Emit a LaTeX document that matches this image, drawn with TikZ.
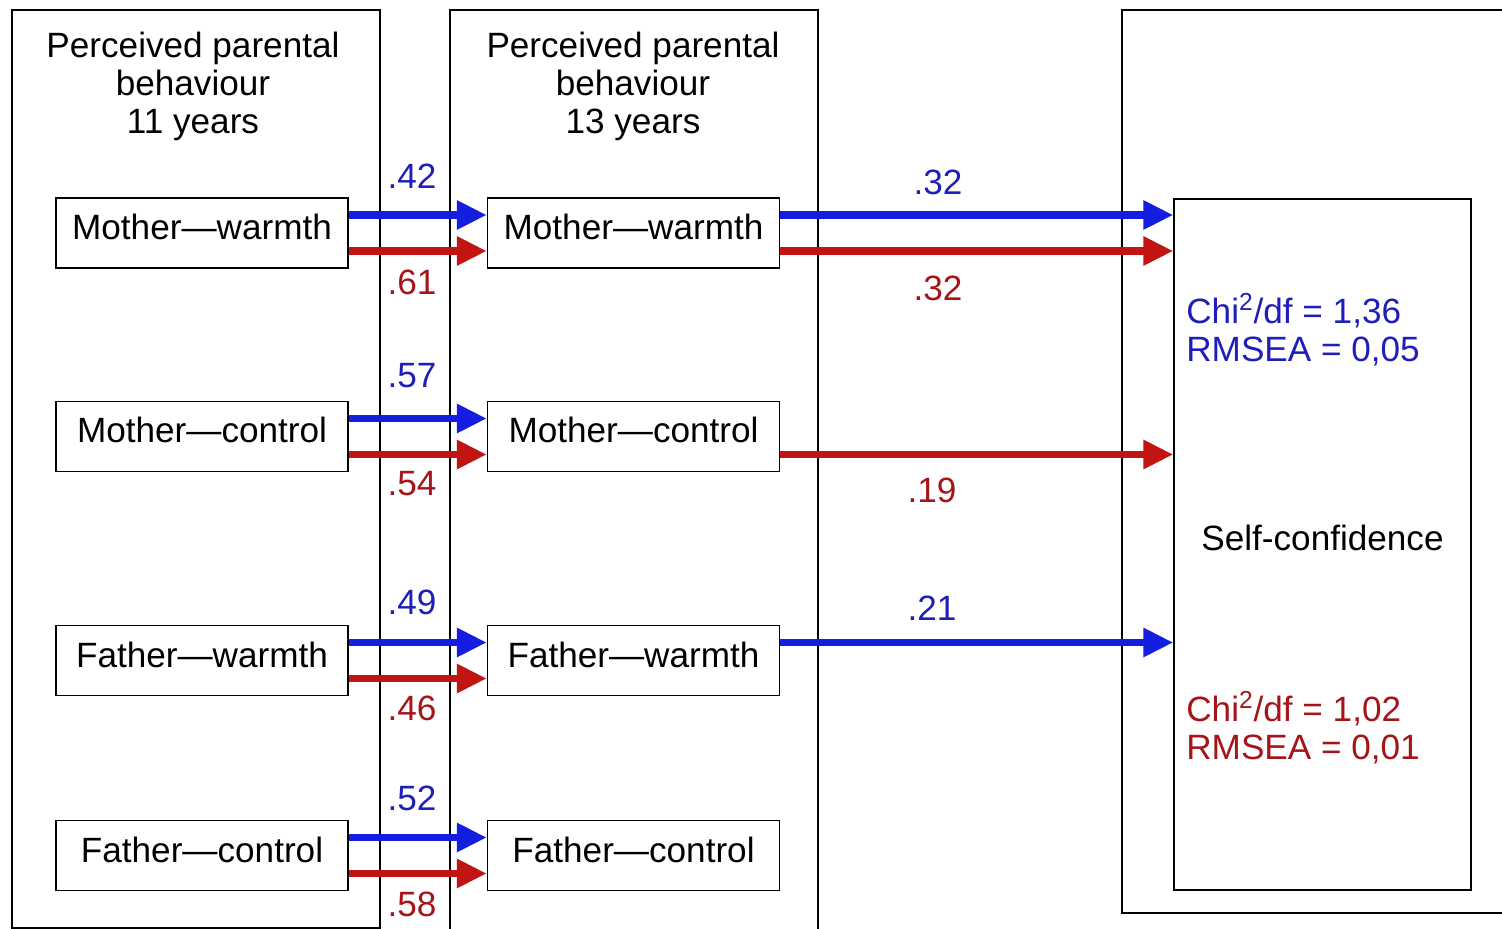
\documentclass[tikz,border=0pt]{standalone}
\usepackage{fontspec}
\setmainfont{Liberation Sans}
\usetikzlibrary{arrows.meta}
\definecolor{arrblue}{RGB}{20,30,225}
\definecolor{arrred}{RGB}{195,20,20}
\definecolor{txtblue}{RGB}{30,30,185}
\definecolor{txtred}{RGB}{165,20,25}
\tikzset{
  varbox/.style={draw, line width=0.8pt, minimum width=5.84cm, minimum height=1.4cm, inner sep=0pt, text height=0.6cm, text depth=0.34cm},
  pathb/.style={draw=arrblue, line width=4.5pt, -{Triangle[length=0.6cm,width=0.55cm]}},
  pathr/.style={draw=arrred, line width=4.5pt, -{Triangle[length=0.6cm,width=0.55cm]}},
  coefb/.style={text=txtblue, inner sep=0pt},
  coefr/.style={text=txtred, inner sep=0pt}
}
\begin{document}
\begin{tikzpicture}[x=0.02cm,y=-0.02cm,font=\fontsize{20}{21.6}\selectfont]
   \useasboundingbox (0,0) rectangle (1502,929);
   \draw [line width=0.8pt] (12,10) rectangle (380,928);\draw [line width=0.8pt] (450,10) rectangle (818,930);
   \draw [line width=0.8pt] (1122,10) rectangle (1520,913);
   \node (head1) at (193,86) [align=center] {Perceived parental\\behaviour\\11 years};
   \node (head2) at (633,86) [align=center] {Perceived parental\\behaviour\\13 years};
   % 11 years
   \node [varbox] (mw1) at (202,233) {Mother—warmth};
   \node [varbox] (mc1) at (202,436.5) {Mother—control};
   \node [varbox] (fw1) at (202,660.5) {Father—warmth};
   \node [varbox] (fc1) at (202,855.5) {Father—control};
   % 13 years
   \node [varbox] (mw2) at (633.5,233) {Mother—warmth};
   \node [varbox] (mc2) at (633.5,436.5) {Mother—control};
   \node [varbox] (fw2) at (633.5,660.5) {Father—warmth};
   \node [varbox] (fc2) at (633.5,855.5) {Father—control};
   % outcome
   \node [draw, line width=0.8pt, minimum width=5.94cm, minimum height=13.82cm, inner sep=0pt, text height=0.6cm, text depth=0.34cm] (sc) at (1322.5,544.5) {Self-confidence};
   \node [coefb, anchor=west, align=left] (fitb) at (1186,330) {Chi\textsuperscript{2}/df = 1,36\\RMSEA = 0,05};
   \node [coefr, anchor=west, align=left] (fitr) at (1186,728) {Chi\textsuperscript{2}/df = 1,02\\RMSEA = 0,01};
   % stability paths
   \draw [pathb] ([yshift=0.36cm]mw1.east)--([yshift=0.36cm]mw2.west);\draw [pathr] ([yshift=-0.36cm]mw1.east)--([yshift=-0.36cm]mw2.west);
   \draw [pathb] ([yshift=0.36cm]mc1.east)--([yshift=0.36cm]mc2.west);\draw [pathr] ([yshift=-0.36cm]mc1.east)--([yshift=-0.36cm]mc2.west);
   \draw [pathb] ([yshift=0.36cm]fw1.east)--([yshift=0.36cm]fw2.west);\draw [pathr] ([yshift=-0.36cm]fw1.east)--([yshift=-0.36cm]fw2.west);
   \draw [pathb] ([yshift=0.36cm]fc1.east)--([yshift=0.36cm]fc2.west);\draw [pathr] ([yshift=-0.36cm]fc1.east)--([yshift=-0.36cm]fc2.west);
   \node [coefb] (c1) at (412,176) {.42};\node [coefr] (c2) at (412,282) {.61};
   \node [coefb] (c3) at (412,376) {.57};\node [coefr] (c4) at (412,484) {.54};
   \node [coefb] (c5) at (412,602) {.49};\node [coefr] (c6) at (412,708) {.46};
   \node [coefb] (c7) at (412,798) {.52};\node [coefr] (c8) at (412,904) {.58};
   % paths to self-confidence
   \coordinate (mwb) at ([yshift=0.36cm]mw2.east);\coordinate (mwr) at ([yshift=-0.36cm]mw2.east);
   \coordinate (mcr) at ([yshift=-0.36cm]mc2.east);\coordinate (fwb) at ([yshift=0.36cm]fw2.east);
   \draw [pathb] (mwb)--(mwb -| sc.west);\draw [pathr] (mwr)--(mwr -| sc.west);
   \draw [pathr] (mcr)--(mcr -| sc.west);\draw [pathb] (fwb)--(fwb -| sc.west);
   \node [coefb] (c9) at (938,182) {.32};\node [coefr] (c10) at (938,288) {.32};
   \node [coefr] (c11) at (932,490) {.19};\node [coefb] (c12) at (932,608) {.21};
\end{tikzpicture}
\end{document}
